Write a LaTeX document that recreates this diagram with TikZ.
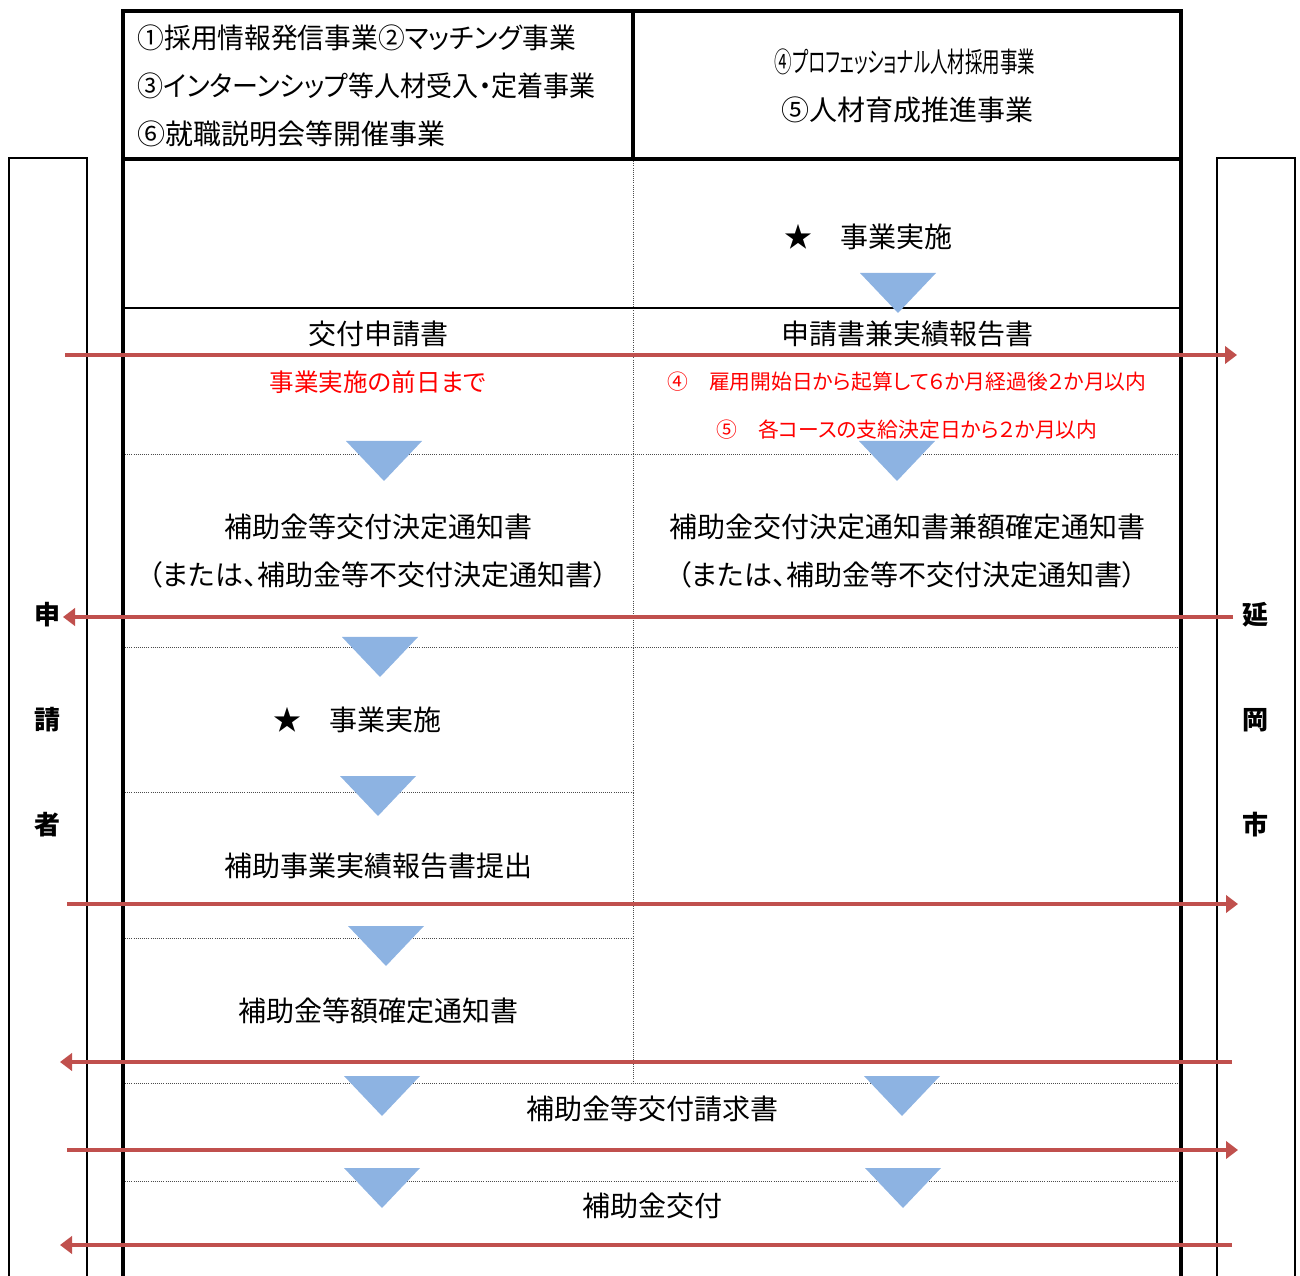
\documentclass[tikz,border=0pt]{standalone}
\usepackage{fontspec}
\usepackage{tikz}
\usetikzlibrary{arrows.meta}
\setmainfont{Noto Sans CJK JP}[RawFeature=+palt]
\definecolor{zkred}{HTML}{C0504D}
\definecolor{zkblue}{HTML}{8DB3E2}
\newcommand{\zkmain}{\fontsize{21}{25}\selectfont}
\newcommand{\zknote}{\fontsize{18.4}{22}\selectfont}
\newcommand{\zksmall}{\fontsize{15.6}{18}\selectfont}
\newcommand{\zkside}{\fontsize{19.5}{23}\selectfont\bfseries}
\newcommand{\zktri}{38}

\begin{document}
\begin{tikzpicture}[x=0.75pt,y=-0.75pt,style=thick]
	\useasboundingbox (0,0) rectangle (1300,1276);
	\tikzset{
		mainframe/.style={line width=3.2pt},
		sidebox/.style={line width=1.2pt},
		solidrule/.style={line width=1.5pt},
		dotline/.style={densely dotted,line width=0.6pt,black!70},
		msgarrow/.style={zkred,line width=3pt,-{Triangle[length=9pt,width=13pt]}},
		flowtri/.style={fill=zkblue}
	}
	\draw[sidebox] (9,1285) -- (9,158) -- (87,158) -- (87,1285);
	\draw[sidebox] (1217,1285) -- (1217,158) -- (1295,158) -- (1295,1285);
	\draw[dotline] (633,159) -- (633,1083);
	\draw[dotline] (125,454) -- (1179,454);
	\draw[dotline] (125,647) -- (1179,647);
	\draw[dotline] (125,792) -- (633,792);
	\draw[dotline] (125,938) -- (633,938);
	\draw[dotline] (125,1083) -- (1179,1083);
	\draw[dotline] (125,1181) -- (1179,1181);
	\draw[solidrule] (123,308) -- (1181,308);
	\draw[mainframe] (123,1285) -- (123,11) -- (1181,11) -- (1181,1285);
	\draw[mainframe] (123,159) -- (1181,159);
	\draw[mainframe] (633,11) -- (633,159);
	\foreach \x/\y in {898/273,384/441,897/441,380/637,378/776,386/926,382/1076,902/1076,382/1168,903/1168}
		\fill[flowtri] (\x-\zktri,\y) -- (\x+\zktri,\y) -- (\x,\y+40) -- cycle;
	\begin{scope}
	\tikzstyle{every node}=[font=\zkmain,inner sep=0pt]
	\node[anchor=west] (H_1) at (137,38) {\scalebox{0.955}[1]{①採用情報発信事業②マッチング事業}};
	\node[anchor=west] (H_2) at (137,86) {\scalebox{0.93}[1]{③インターンシップ等人材受入・定着事業}};
	\node[anchor=west] (H_3) at (137,134) {⑥就職説明会等開催事業};
	\node (H_4) at (905,62) {\scalebox{0.625}[1]{④プロフェッショナル人材採用事業}};
	\node (H_5) at (907,110) {⑤人材育成推進事業};
	\node (S_1) at (868,237) {★　事業実施};
	\node (D_1) at (378,334) {交付申請書};
	\node (D_2) at (907,334) {申請書兼実績報告書};
	\node[font=\zknote,text=red] (N_1) at (378,382) {事業実施の前日まで};
	\node[font=\zksmall,text=red] (N_2) at (907,382) {④　雇用開始日から起算して６か月経過後２か月以内};
	\node[font=\zksmall,text=red] (N_3) at (907,430) {⑤　各コースの支給決定日から２か月以内};
	\node (D_3) at (378,527) {補助金等交付決定通知書};
	\node (D_4) at (378,575) {（または、補助金等不交付決定通知書）};
	\node (D_5) at (907,527) {補助金交付決定通知書兼額確定通知書};
	\node (D_6) at (907,575) {（または、補助金等不交付決定通知書）};
	\node (S_2) at (357,720) {★　事業実施};
	\node (D_7) at (378,866) {補助事業実績報告書提出};
	\node (D_8) at (378,1011) {補助金等額確定通知書};
	\node (D_9) at (652,1109) {補助金等交付請求書};
	\node (D_10) at (652,1206) {補助金交付};
	\node[font=\zkside] (A_1) at (47,615) {申};
	\node[font=\zkside] (A_2) at (47,720) {請};
	\node[font=\zkside] (A_3) at (47,825) {者};
	\node[font=\zkside] (B_1) at (1255,615) {延};
	\node[font=\zkside] (B_2) at (1255,720) {岡};
	\node[font=\zkside] (B_3) at (1255,825) {市};
	\end{scope}
	\foreach \i/\y/\l/\r in {1/355/65/1237,2/617/63/1233,3/904/67/1238,4/1062/60/1232,5/1150/67/1238,6/1245/60/1232} {
		\coordinate (L_\i) at (\l,\y);
		\coordinate (R_\i) at (\r,\y);
	}
	\draw[msgarrow] (L_1) -- (R_1);
	\draw[msgarrow] (R_2) -- (L_2);
	\draw[msgarrow] (L_3) -- (R_3);
	\draw[msgarrow] (R_4) -- (L_4);
	\draw[msgarrow] (L_5) -- (R_5);
	\draw[msgarrow] (R_6) -- (L_6);
\end{tikzpicture}
\end{document}
